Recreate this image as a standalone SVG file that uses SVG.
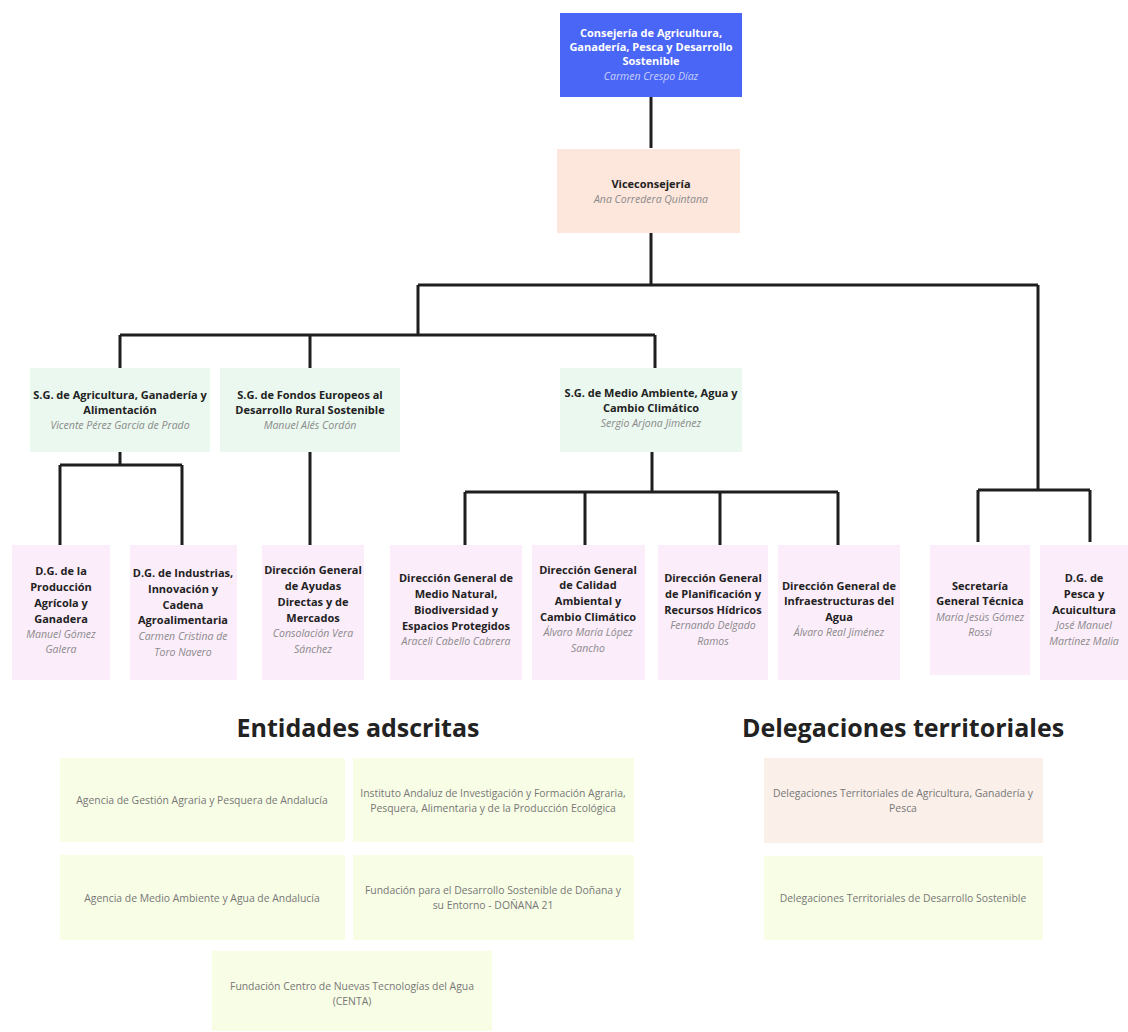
<svg xmlns="http://www.w3.org/2000/svg" width="1128" height="1032" viewBox="0 0 1128 1032">
<style>
text{font-family:"Open Sans","Liberation Sans",sans-serif;text-anchor:middle}
.b{font-size:11px;font-weight:bold;fill:#222}
.n{font-size:10.5px;font-style:italic;fill:#8a8a8a}
.w{font-size:11px;font-weight:bold;fill:#fff}
.wn{font-size:10.5px;font-style:italic;fill:#c8d0ff}
.e{font-size:10.4px;fill:#777}
.h{font-size:25px;font-weight:bold;fill:#222}
.sg{fill:#eaf8ef}
.dg{fill:#fcedfb}
.ent{fill:#f8fde5}
.con{fill:none;stroke:#1e1e1e;stroke-width:3}
</style>
<rect width="1128" height="1032" fill="#fff"/>
<g id="connectors">
<path class="con" d="M651 97V148M651 233V285M418 285H1038M418 285V335M120 335H655M120 335V368M310 335V368M655 335V368"/>
<path class="con" d="M1038 285V490M978 490H1090M978 490V542M1090 490V542"/>
<path class="con" d="M120 452V465M60 465H182M60 465V545M182 465V545M310 452V545"/>
<path class="con" d="M652 452V492M465 492H838M465 492V545M585 492V545M720 492V545M838 492V545"/>
</g>
<g id="consejeria"><rect x="560" y="13" width="182" height="84" fill="#4a66f6"/>
<text class="w" x="651" y="37">Consejería de Agricultura,</text><text class="w" x="651" y="51">Ganadería, Pesca y Desarrollo</text><text class="w" x="651" y="65">Sostenible</text><text class="wn" x="651" y="80">Carmen Crespo Díaz</text></g>
<g id="viceconsejeria"><rect x="557" y="149" width="183" height="84" fill="#fde7dd"/>
<text class="b" x="651" y="188">Viceconsejería</text><text class="n" x="651" y="203">Ana Corredera Quintana</text></g>
<g id="sg1"><rect class="sg" x="30" y="368" width="180" height="84"/>
<text class="b" x="120" y="399">S.G. de Agricultura, Ganadería y</text><text class="b" x="120" y="414">Alimentación</text><text class="n" x="120" y="429">Vicente Pérez García de Prado</text></g>
<g id="sg2"><rect class="sg" x="220" y="368" width="180" height="84"/>
<text class="b" x="310" y="399">S.G. de Fondos Europeos al</text><text class="b" x="310" y="414">Desarrollo Rural Sostenible</text><text class="n" x="310" y="429">Manuel Alés Cordón</text></g>
<g id="sg3"><rect class="sg" x="560" y="368" width="182" height="84"/>
<text class="b" x="651" y="397">S.G. de Medio Ambiente, Agua y</text><text class="b" x="651" y="412">Cambio Climático</text><text class="n" x="651" y="427">Sergio Arjona Jiménez</text></g>
<g id="dg1"><rect class="dg" x="12" y="545" width="98" height="135"/>
<text class="b" x="61" y="575">D.G. de la</text><text class="b" x="61" y="591">Producción</text><text class="b" x="61" y="607">Agrícola y</text><text class="b" x="61" y="623">Ganadera</text><text class="n" x="61" y="638">Manuel Gómez</text><text class="n" x="61" y="653">Galera</text></g>
<g id="dg2"><rect class="dg" x="130" y="545" width="107" height="135"/>
<text class="b" x="183" y="577">D.G. de Industrias,</text><text class="b" x="183" y="593">Innovación y</text><text class="b" x="183" y="609">Cadena</text><text class="b" x="183" y="624">Agroalimentaria</text><text class="n" x="183" y="640">Carmen Cristina de</text><text class="n" x="183" y="656">Toro Navero</text></g>
<g id="dg3"><rect class="dg" x="262" y="545" width="102" height="135"/>
<text class="b" x="313" y="574">Dirección General</text><text class="b" x="313" y="590">de Ayudas</text><text class="b" x="313" y="606">Directas y de</text><text class="b" x="313" y="622">Mercados</text><text class="n" x="313" y="637">Consolación Vera</text><text class="n" x="313" y="653">Sánchez</text></g>
<g id="dg4"><rect class="dg" x="390" y="545" width="132" height="135"/>
<text class="b" x="456" y="582">Dirección General de</text><text class="b" x="456" y="598">Medio Natural,</text><text class="b" x="456" y="614">Biodiversidad y</text><text class="b" x="456" y="630">Espacios Protegidos</text><text class="n" x="456" y="645">Araceli Cabello Cabrera</text></g>
<g id="dg5"><rect class="dg" x="532" y="545" width="113" height="135"/>
<text class="b" x="588" y="574">Dirección General</text><text class="b" x="588" y="589">de Calidad</text><text class="b" x="588" y="605">Ambiental  y</text><text class="b" x="588" y="621">Cambio Climático</text><text class="n" x="588" y="636">Álvaro María López</text><text class="n" x="588" y="652">Sancho</text></g>
<g id="dg6"><rect class="dg" x="658" y="545" width="110" height="135"/>
<text class="b" x="713" y="582">Dirección General</text><text class="b" x="713" y="598">de Planificación y</text><text class="b" x="713" y="614">Recursos Hídricos</text><text class="n" x="713" y="629">Fernando Delgado</text><text class="n" x="713" y="645">Ramos</text></g>
<g id="dg7"><rect class="dg" x="778" y="545" width="122" height="135"/>
<text class="b" x="839" y="590">Dirección General de</text><text class="b" x="839" y="605">Infraestructuras del</text><text class="b" x="839" y="621">Agua</text><text class="n" x="839" y="636">Álvaro Real Jiménez</text></g>
<g id="sgt"><rect class="dg" x="930" y="545" width="100" height="130"/>
<text class="b" x="980" y="590">Secretaría</text><text class="b" x="980" y="605">General Técnica</text><text class="n" x="980" y="621">María Jesús Gómez</text><text class="n" x="980" y="636">Rossi</text></g>
<g id="dgpesca"><rect class="dg" x="1040" y="545" width="88" height="135"/>
<text class="b" x="1084" y="582">D.G. de</text><text class="b" x="1084" y="598">Pesca y</text><text class="b" x="1084" y="614">Acuicultura</text><text class="n" x="1084" y="629">José Manuel</text><text class="n" x="1084" y="645">Martínez Malia</text></g>
<text class="h" x="358" y="737">Entidades adscritas</text>
<text class="h" x="903" y="737">Delegaciones territoriales</text>
<g id="ent1"><rect class="ent" x="60" y="758" width="285" height="84"/><text class="e" x="202" y="804">Agencia de Gestión Agraria y Pesquera de Andalucía</text></g>
<g id="ent2"><rect class="ent" x="353" y="758" width="281" height="84"/><text class="e" x="493" y="797">Instituto Andaluz de Investigación y Formación Agraria,</text><text class="e" x="493" y="812">Pesquera, Alimentaria y de la Producción Ecológica</text></g>
<g id="ent3"><rect class="ent" x="60" y="855" width="285" height="85"/><text class="e" x="202" y="902">Agencia de Medio Ambiente y Agua de Andalucía</text></g>
<g id="ent4"><rect class="ent" x="353" y="855" width="281" height="85"/><text class="e" x="493" y="894">Fundación para el Desarrollo Sostenible de Doñana y</text><text class="e" x="493" y="909">su Entorno - DOÑANA 21</text></g>
<g id="ent5"><rect class="ent" x="212" y="951" width="280" height="80"/><text class="e" x="352" y="990">Fundación Centro de Nuevas Tecnologías del Agua</text><text class="e" x="352" y="1005">(CENTA)</text></g>
<g id="del1"><rect x="764" y="758" width="279" height="85" fill="#faefe9"/><text class="e" x="903" y="797">Delegaciones Territoriales de Agricultura, Ganadería y</text><text class="e" x="903" y="812">Pesca</text></g>
<g id="del2"><rect class="ent" x="764" y="856" width="279" height="84"/><text class="e" x="903" y="902">Delegaciones Territoriales de Desarrollo Sostenible</text></g>
</svg>
